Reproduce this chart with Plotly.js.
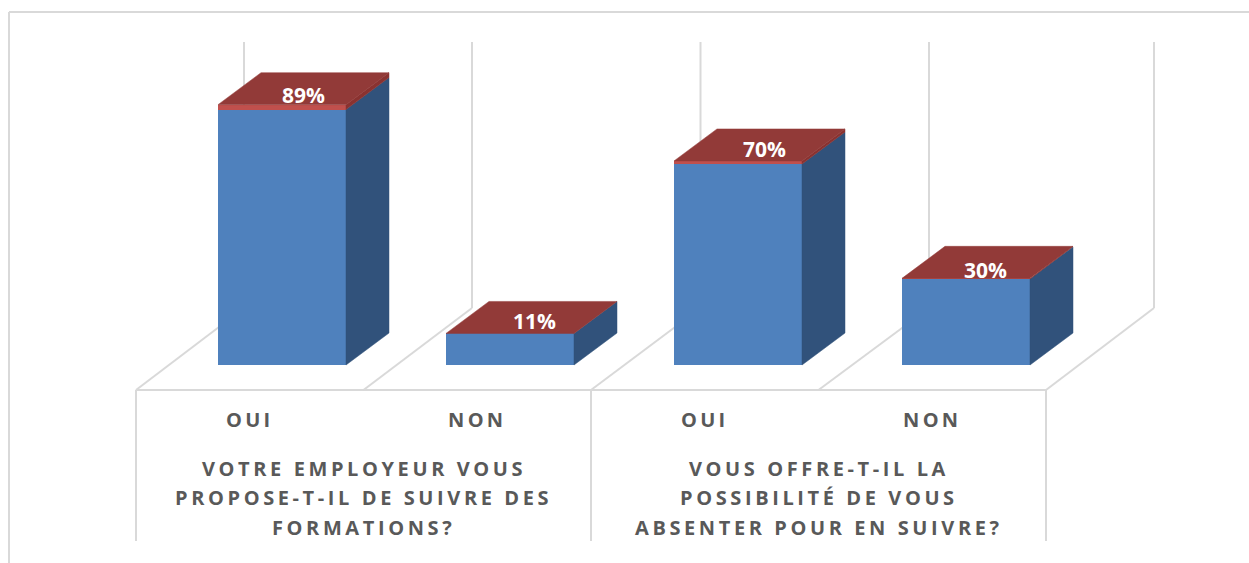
<!DOCTYPE html>
<html>
<head>
<meta charset="utf-8">
<script src="https://cdn.plot.ly/plotly-3.0.1.min.js"></script>
<style>
html,body{margin:0;padding:0;background:#fff}
#chart{width:1249px;height:563px}
.xtick text{letter-spacing:3.3px}
.annotation-text{letter-spacing:3.6px}
</style>
</head>
<body>
<div id="chart"></div>
<script>
// Data
var answers = ['OUI', 'NON', 'OUI', 'NON'];
var shareValues = [89, 11, 70, 30];
var capValues = [1.7, 0, 1.1, 0.2];
var questionLines = [
  ['VOTRE EMPLOYEUR VOUS', 'PROPOSE-T-IL DE SUIVRE DES', 'FORMATIONS?'],
  ['VOUS OFFRE-T-IL LA', 'POSSIBILITÉ DE VOUS', 'ABSENTER POUR EN SUIVRE?']
];

// Scale of the plot: pixels per category and per percentage point
var W = 1249, H = 563, plotBottom = 396;
var pxX = 228, pxY = 2.87, originX = 282, originY = 365;
var barW = 128 / pxX;
var depthX = 43 / pxX, depthY = 32 / pxY;
var floorDY = 82 / pxY;
var floorFront = -25 / pxY, wallTop = 323 / pxY;
var floorLeft = (136 - originX) / pxX, floorStep = 227.5 / pxX;
var wallPixels = [244, 472, 700.5, 929, 1154];
var labelShiftX = [0, 3, 5, -2], labelLift = [7, 10, 9, 6];
var gridColor = '#d9d9d9';
var textColor = '#595959';
var fontFace = '"Open Sans", "Noto Sans", sans-serif';
var cats = answers.map(function (_, i) { return i; });
var paperY = function (p) { return (plotBottom - p) / plotBottom; };
var unitX = function (p) { return (p - originX) / pxX; };

function poly(xs, ys, color) {
  return { type: 'scatter', mode: 'lines', x: xs, y: ys, fill: 'toself', fillcolor: color,
           line: { width: 0.5, color: color }, hoverinfo: 'skip', showlegend: false };
}

var traces = [
  { type: 'bar', x: cats, y: shareValues, width: barW, marker: { color: '#4f81bd', line: { width: 0 } }, hoverinfo: 'skip', showlegend: false },
  { type: 'bar', x: cats, y: capValues, width: barW, marker: { color: '#c0504d', line: { width: 0 } }, hoverinfo: 'skip', showlegend: false }
];

cats.forEach(function (i) {
  var v = shareValues[i], top = v + capValues[i];
  var r = i + barW / 2, l = i - barW / 2;
  traces.push(poly([r, r + depthX, r + depthX, r, r], [0, depthY, v + depthY, v, 0], '#31527b'));
  if (capValues[i] > 0) {
    traces.push(poly([r, r + depthX, r + depthX, r, r], [v, v + depthY, top + depthY, top, v], '#8a3230'));
  }
  traces.push(poly([l, l + depthX, r + depthX, r, l], [top, top + depthY, top + depthY, top, top], '#923a38'));
});

traces.push({
  type: 'scatter', mode: 'text', showlegend: false, hoverinfo: 'skip',
  x: cats.map(function (i) { return i + depthX / 2 + labelShiftX[i] / pxX; }),
  y: cats.map(function (i) { return shareValues[i] + capValues[i] + labelLift[i] / pxY; }),
  text: shareValues.map(function (v) { return v + '%'; }),
  textposition: 'middle center',
  textfont: { family: fontFace, size: 21, color: '#ffffff', weight: 700 }
});

function line(x0, y0, x1, y1, xref, yref) {
  return { type: 'line', layer: 'below', xref: xref || 'x', yref: yref || 'y', x0: x0, y0: y0, x1: x1, y1: y1,
           line: { color: gridColor, width: 2 } };
}

var shapes = [
  line(9 / W, paperY(12), 1, paperY(12), 'paper', 'paper'),
  line(9 / W, paperY(12), 9 / W, paperY(H), 'paper', 'paper'),
  line(floorLeft, floorFront, floorLeft + 4 * floorStep, floorFront)
];
wallPixels.forEach(function (p, k) {
  var fx = floorLeft + k * floorStep, wx = unitX(p);
  shapes.push(line(fx, floorFront, wx, floorFront + floorDY));
  shapes.push(line(wx, floorFront + floorDY, wx, wallTop));
});
[0, 2, 4].forEach(function (k) {
  var fx = floorLeft + k * floorStep;
  shapes.push(line(fx, paperY(390), fx, paperY(541), 'x', 'paper'));
});

var annotations = [];
questionLines.forEach(function (lines, g) {
  lines.forEach(function (t, n) {
    annotations.push({
      xref: 'x', yref: 'paper', x: floorLeft + (2 * g + 1) * floorStep, y: paperY(468 + n * 29.5),
      text: t, showarrow: false, xanchor: 'center', yanchor: 'middle',
      font: { family: fontFace, size: 20, color: textColor, weight: 700 }
    });
  });
});

var layout = {
  width: W, height: H,
  margin: { l: 0, r: 0, t: 0, b: H - plotBottom, pad: 0 },
  paper_bgcolor: '#ffffff', plot_bgcolor: 'rgba(0,0,0,0)',
  barmode: 'stack', showlegend: false,
  shapes: shapes, annotations: annotations,
  xaxis: {
    range: [-originX / pxX, (W - originX) / pxX],
    tickmode: 'array',
    tickvals: cats.map(function (i) { return floorLeft + (i + 0.5) * floorStep; }),
    ticktext: answers,
    ticks: '', showgrid: false, zeroline: false, showline: false,
    ticklabelstandoff: 10,
    tickfont: { family: fontFace, size: 20, color: textColor, weight: 700 }
  },
  yaxis: {
    range: [(originY - plotBottom) / pxY, originY / pxY],
    showticklabels: false, ticks: '', showgrid: false, zeroline: false, showline: false
  }
};

Plotly.newPlot('chart', traces, layout, { staticPlot: true, displayModeBar: false });
</script>
</body>
</html>
